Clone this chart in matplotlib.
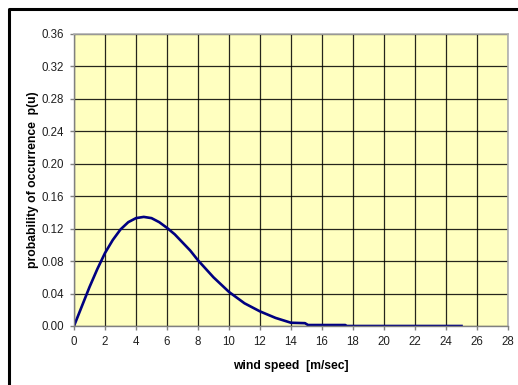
import numpy as np
import matplotlib.pyplot as plt
from matplotlib.lines import Line2D

plt.rcParams['font.family'] = ['Liberation Sans', 'DejaVu Sans']

# wind speed [m/s] and probability of occurrence
speed = [0, 0.5, 1, 1.5, 2, 2.5, 3, 3.5, 4, 4.5, 5, 5.5, 6, 6.5, 7, 7.5, 8,
         9, 10, 11, 12, 13, 14, 14.9, 15.1, 16, 17, 17.5, 17.6, 20, 22, 24, 25]
prob = [0.0, 0.024, 0.048, 0.070, 0.090, 0.106, 0.119, 0.128, 0.133, 0.1345,
        0.133, 0.128, 0.121, 0.113, 0.103, 0.093, 0.081,
        0.060, 0.042, 0.028, 0.018, 0.010, 0.004, 0.0035, 0.0012,
        0.0012, 0.0012, 0.0012, 0.0, 0.0, 0.0, 0.0, 0.0]

xticks = np.arange(0, 29, 2)
yticks = np.arange(0, 0.361, 0.04)

fig = plt.figure(figsize=(5.18, 3.85), dpi=100)
# outer chart frame (only top and left edges fall inside the picture)
bx, by = 8.5 / 518, 1 - 8.5 / 385
fig.lines.append(Line2D([bx, bx, 1.0], [0.0, by, by], transform=fig.transFigure,
                        color='black', linewidth=2.2))

ax = fig.add_axes([74/518, 1 - 326/385, 434/518, 292/385])
ax.set_facecolor('#FFFFC0')
ax.plot(speed, prob, color='#000080', linewidth=1.9, zorder=2.4)

ax.set_xlim(0, 28)
ax.set_ylim(0, 0.36)
ax.set_xticks(xticks)
ax.set_yticks(yticks)
ax.set_yticklabels(['{:.2f}'.format(v) for v in yticks])
ax.grid(True, color='black', linewidth=0.9, alpha=0.85)
ax.set_axisbelow(True)

for s in ['top', 'right']:
    ax.spines[s].set_color('#B0B0B0')
    ax.spines[s].set_linewidth(1.2)
for s in ['left', 'bottom']:
    ax.spines[s].set_color('#808080')
    ax.spines[s].set_linewidth(1.0)
ax.tick_params(direction='out', length=3, width=1, color='#808080',
               labelsize=8.3, labelcolor='#202020', pad=4)

ax.set_xlabel('wind speed  [m/sec]', fontsize=8.7, fontweight='bold', labelpad=9)
ax.set_ylabel('probability of occurrence  p(u)', fontsize=8.7, fontweight='bold', labelpad=2)

fig.savefig('out.png', dpi=100)
